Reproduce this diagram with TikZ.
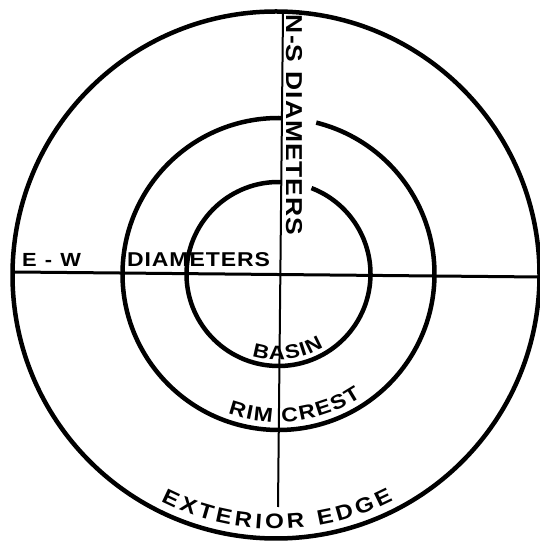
\documentclass[tikz,border=0pt]{standalone}
\usepackage{fontspec}
\newfontfamily\lblf{Liberation Sans}[FakeStretch=1.15]
\usetikzlibrary{decorations.text}
\newcommand\lblfont[1]{\lblf\bfseries\fontsize{#1}{#1}\selectfont}
\begin{document}
\begin{tikzpicture}[x=1pt,y=1pt,
  ring/.style={line width=4.5pt},
  ewline/.style={line width=3pt},
  nsline/.style={line width=2pt},
  lbl/.style={decorate, decoration={text along path, text align=fit to path}}]
\useasboundingbox (0,0) rectangle (540,546);
\coordinate (oc) at (276,271);
\coordinate (mc) at (278.5,272);
% circles
\draw[ring] (oc) circle[radius=263.5];
\draw[ring] ([shift={(88.5:156)}]mc) arc[start angle=88.5, end angle=436, radius=156];
\draw[ring] ([shift={(88:92)}]mc) arc[start angle=88, end angle=429, radius=92];
% diameters
\coordinate (ew1) at (14,274);
\coordinate (ew2) at (540,269);
\coordinate (ns1) at (283,534);
\coordinate (ns2) at (278,39);
\draw[ewline] (ew1) -- (ew2);
\draw[nsline] (ns1) -- (ns2);
% labels
\path[lbl, decoration={text={|\lblfont{19}|E - W}}] (22,279.5) -- (81,279.5);
\path[lbl, decoration={text={|\lblfont{20}|DIAMETERS}}] (127,279.5) -- (270,279.5);
\path[lbl, decoration={text={|\lblfont{23}|N-S DIAMETERS}}] (286,531) -- (286,311);
\path[lbl, decoration={text={|\lblfont{19.5}|BASIN}}] ([shift={(252:86)}]mc) arc[start angle=252, end angle=301.5, radius=86];
\path[lbl, decoration={text={|\lblfont{20}|RIM CREST}}] ([shift={(250:148)}]mc) arc[start angle=250, end angle=304, radius=148];
\path[lbl, decoration={text={|\lblfont{21}|EXTERIOR EDGE}}] ([shift={(243:254)}]oc) arc[start angle=243, end angle=297.5, radius=254];
\end{tikzpicture}
\end{document}
